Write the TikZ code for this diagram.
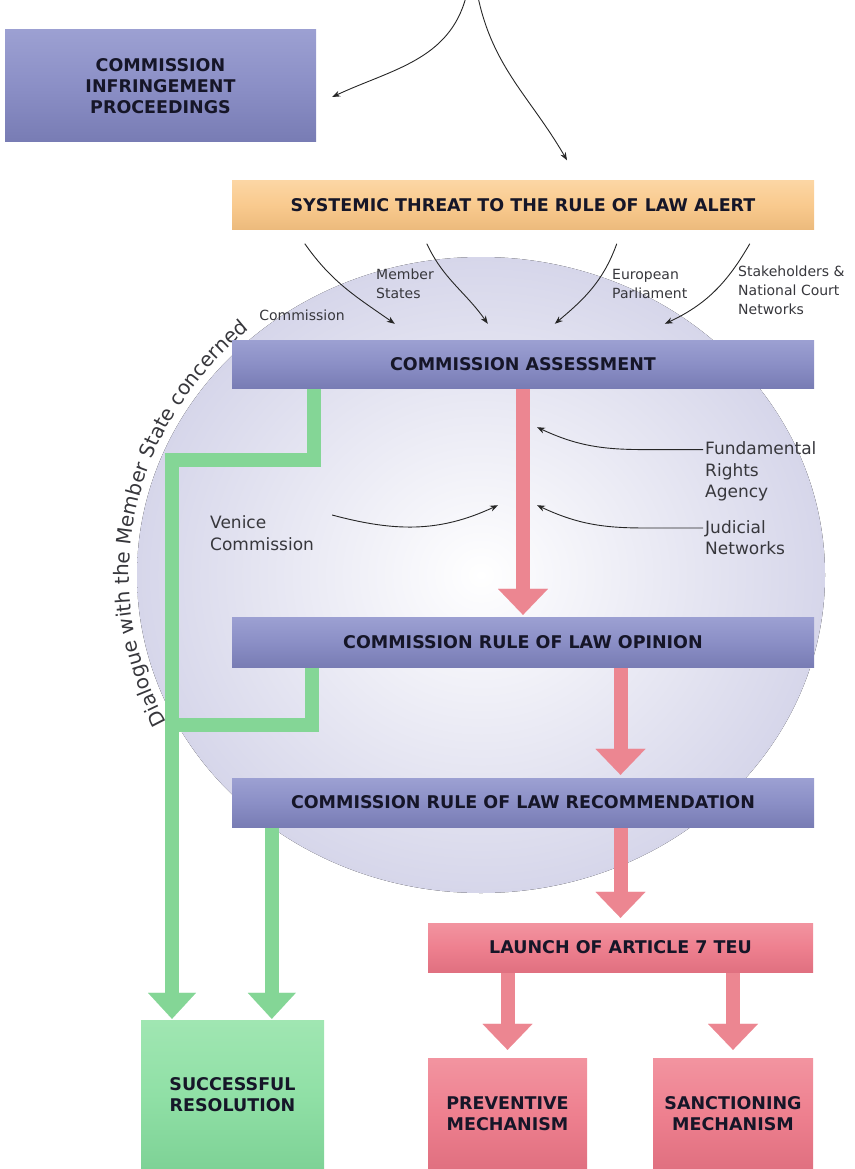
\documentclass[tikz,border=0pt]{standalone}
\usepackage{fontspec}
\setmainfont{DejaVu Sans}
\usetikzlibrary{arrows.meta, positioning, calc, decorations.text, backgrounds}

\definecolor{boxblue}{RGB}{139,143,198}
\definecolor{boxblueT}{RGB}{156,160,210}
\definecolor{boxblueB}{RGB}{120,124,180}
\definecolor{boxorange}{RGB}{249,202,142}
\definecolor{boxorangeT}{RGB}{252,214,164}
\definecolor{boxorangeB}{RGB}{236,186,124}
\definecolor{boxpink}{RGB}{238,128,143}
\definecolor{boxpinkT}{RGB}{242,148,160}
\definecolor{boxpinkB}{RGB}{224,112,128}
\definecolor{boxgreen}{RGB}{144,224,166}
\definecolor{boxgreenT}{RGB}{160,230,178}
\definecolor{boxgreenB}{RGB}{126,210,150}
\definecolor{pipegreen}{RGB}{132,214,150}
\definecolor{pipered}{RGB}{236,134,145}
\definecolor{sphereout}{RGB}{214,214,234}
\definecolor{labelgrey}{RGB}{55,55,60}
\definecolor{textdark}{RGB}{22,22,40}

\newcommand\boxfont{\fontsize{17.5}{21}\selectfont\bfseries}
\newcommand\smallfont{\fontsize{14}{19}\selectfont}
\newcommand\midfont{\fontsize{17}{21.5}\selectfont}
\newcommand\dlgfont{\fontsize{20}{24}\selectfont}

\begin{document}
\begin{tikzpicture}[x=1pt, y=1pt,
    box/.style={inner sep=0pt, align=center, font=\boxfont, text=textdark},
    wide/.style={box, minimum width=582pt, minimum height=49pt},
    bluebox/.style={top color=boxblueT, bottom color=boxblueB, middle color=boxblue},
    orangebox/.style={top color=boxorangeT, bottom color=boxorangeB, middle color=boxorange},
    pinkbox/.style={top color=boxpinkT, bottom color=boxpinkB, middle color=boxpink},
    greenbox/.style={top color=boxgreenT, bottom color=boxgreenB, middle color=boxgreen},
    lbl/.style={inner sep=0pt, align=left, text=labelgrey, font=\smallfont},
    biglbl/.style={lbl, font=\midfont},
    thinarrow/.style={draw=black!85, line width=0.9pt, -{Stealth[length=8pt,width=6pt]}},
    redpipe/.style={draw=pipered, line width=14pt, -{Triangle[width=50pt,length=26pt,line width=0.01pt]}, shorten >=3pt},
    greenpipe/.style={draw=pipegreen, line width=14pt},
    greenarrow/.style={greenpipe, -{Triangle[width=48pt,length=26pt,line width=0.01pt]}, shorten >=1pt}]

      \useasboundingbox (0,0) rectangle (854,-1169);

      % the sphere behind the steps
      \begin{pgfonlayer}{background}
        \fill[inner color=white, outer color=sphereout] (481,-575) ellipse [x radius=344pt, y radius=318pt];
      \end{pgfonlayer}

      \path[decorate, decoration={text along path, text color=labelgrey, text align=center,
          text={|\dlgfont|Dialogue with the Member State concerned}}]
        (481,-575) ++(207:352pt and 326pt) arc[start angle=207, end angle=131, x radius=352pt, y radius=326pt];

      % boxes
      \node[box, bluebox, minimum width=311pt, minimum height=112pt] (infr) at (160.5,-86) {COMMISSION\\INFRINGEMENT\\PROCEEDINGS};
      \node[wide, orangebox] (alert) at (523,-205) {SYSTEMIC THREAT TO THE RULE OF LAW ALERT};
      \node[wide, bluebox, minimum height=48pt] (assess) at (523,-364) {COMMISSION ASSESSMENT};
      \node[wide, bluebox, minimum height=50pt] (opinion) at (523,-642) {COMMISSION RULE OF LAW OPINION};
      \node[wide, bluebox] (recom) at (523,-802.5) {COMMISSION RULE OF LAW RECOMMENDATION};
      \node[box, pinkbox, minimum width=385pt, minimum height=49pt] (launch) at (620.5,-947.5) {LAUNCH OF ARTICLE 7 TEU};
      \node[box, greenbox, minimum width=183pt, minimum height=149pt] (success) at (232.5,-1094.5) {SUCCESSFUL\\RESOLUTION};
      \node[box, pinkbox, minimum width=159pt, minimum height=111pt] (prev) at (507.5,-1113.5) {PREVENTIVE\\MECHANISM};
      \node[box, pinkbox, minimum width=160pt, minimum height=111pt] (sanc) at (733,-1113.5) {SANCTIONING\\MECHANISM};

      % labels
      \node[lbl] (comlbl) at (302,-315) {Commission};
      \node[lbl, anchor=west] (mslbl) at (376,-284) {Member\\States};
      \node[lbl, anchor=west] (eplbl) at (612,-284) {European\\Parliament};
      \node[lbl, anchor=west] (shlbl) at (738,-290) {Stakeholders \&\\National Court\\Networks};
      \node[biglbl, anchor=west] (fralbl) at (705,-471.5) {Fundamental\\Rights\\Agency};
      \node[biglbl, anchor=west] (jnlbl) at (705,-537.5) {Judicial\\Networks};
      \node[biglbl, anchor=west] (vclbl) at (210,-533) {Venice\\Commission};

      % pipes
      \coordinate (gA) at (172,-460);
      \coordinate (gB) at (172,-725);
      \coordinate (gC) at ([xshift=40pt]recom.south west);
      \begin{pgfonlayer}{background}
        \draw[greenarrow] ([xshift=82pt]assess.south west) |- (gA) -- (gA |- success.north);
        \draw[greenpipe] ([xshift=80pt]opinion.south west) |- (gB);
        \draw[greenarrow] (gC) -- (gC |- success.north);

        \draw[redpipe, shorten >=2pt] (assess.south) -- (opinion.north);
        \draw[redpipe] (opinion.south -| launch.north) -- (recom.north -| launch.north);
        \draw[redpipe, shorten >=5pt] (recom.south -| launch.north) -- (launch.north);
        \draw[redpipe, shorten >=8pt] (launch.south -| prev.north) -- (prev.north);
        \draw[redpipe, shorten >=8pt] (launch.south -| sanc.north) -- (sanc.north);
      \end{pgfonlayer}

      % thin arrows
      \coordinate (srcA) at (466,3);
      \coordinate (srcB) at (478,3);
      \draw[thinarrow] (srcA) to[out=-105, in=25] ([shift={(16,-11)}]infr.east);
      \draw[thinarrow] (srcB) to[out=-78, in=120] ([shift={(44,20)}]alert.north);

      \foreach \sx/\ex/\o/\i in {73/163/-55/145, 195/256/-65/125, 385/323/-110/40, 518/433/-120/25}
        \draw[thinarrow] ([shift={(\sx,-14)}]alert.south west) to[out=\o, in=\i] ([shift={(\ex,16)}]assess.north west);

      \coordinate (fraTip) at ([shift={(14,-39)}]assess.south);
      \coordinate (jnTip) at ([shift={(14,-117)}]assess.south);
      \coordinate (vcTip) at ([shift={(-25,-117)}]assess.south);
      \draw[thinarrow] ([shift={(-2,-8)}]fralbl.north west) -- ++(-60,0) to[out=180, in=-25] (fraTip);
      \draw[thinarrow] ([shift={(-2,-8)}]jnlbl.north west) -- ++(-60,0) to[out=180, in=-25] (jnTip);
      \draw[thinarrow] ([shift={(18,18)}]vclbl.east) to[out=-15, in=-155] (vcTip);
\end{tikzpicture}
\end{document}
